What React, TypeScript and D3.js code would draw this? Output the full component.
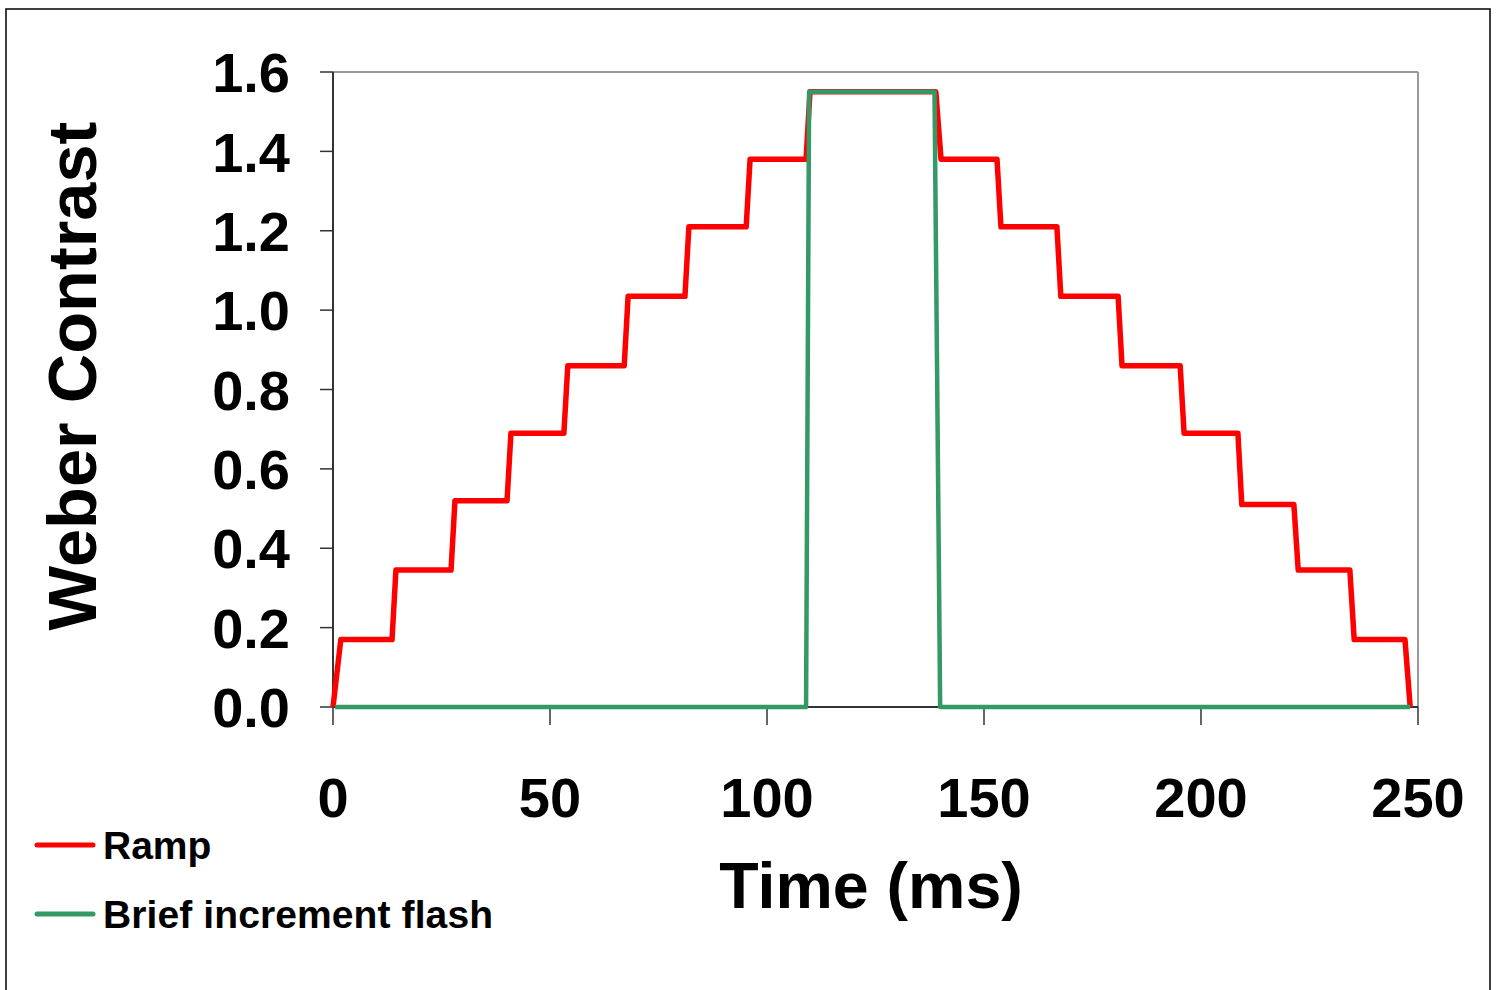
import React from "react";
import * as d3 from "d3";

const rampTime = [0, 1.8, 13.6, 14.5, 27.2, 28.1, 40.1, 41.0, 53.2, 54.1, 67.1, 68.0, 81.1, 82.0, 95.2, 96.1, 109.0, 109.9, 138.9, 140.1, 153.0, 153.9, 166.8, 167.7, 180.9, 181.8, 195.2, 196.1, 208.5, 209.4, 221.4, 222.4, 234.3, 235.3, 247.0, 248.2];
const rampValue = [0, 0.17, 0.17, 0.345, 0.345, 0.52, 0.52, 0.69, 0.69, 0.86, 0.86, 1.035, 1.035, 1.21, 1.21, 1.38, 1.38, 1.55, 1.55, 1.38, 1.38, 1.21, 1.21, 1.035, 1.035, 0.86, 0.86, 0.69, 0.69, 0.51, 0.51, 0.345, 0.345, 0.17, 0.17, 0];
const flashTime = [0.5, 109.0, 109.7, 138.6, 139.9, 248.2];
const flashValue = [0, 0, 1.55, 1.55, 0, 0];
const xTicks = [0, 50, 100, 150, 200, 250];
const yTicks = [0, 0.2, 0.4, 0.6, 0.8, 1.0, 1.2, 1.4, 1.6];
const seriesNames = ["Ramp", "Brief increment flash"];
const seriesColors = ["#ff0000", "#339966"];

const FONT = "'Liberation Sans', Arial, sans-serif";

export default function App() {
  const W = 1499, H = 990;
  const left = 333, right = 1418, top = 72, bottom = 707;
  const x = d3.scaleLinear().domain([0, 250]).range([left, right]);
  const y = d3.scaleLinear().domain([0, 1.6]).range([bottom, top]);
  const line = d3.line<[number, number]>().x(d => x(d[0])).y(d => y(d[1]));
  const rampPts = rampTime.map((t, i) => [t, rampValue[i]] as [number, number]);
  const flashPts = flashTime.map((t, i) => [t, flashValue[i]] as [number, number]);

  return (
    <svg width={W} height={H} style={{ position: "absolute", left: 0, top: 0, background: "#fff" }} fontFamily={FONT}>
      <rect x={6} y={9} width={1484} height={1000} fill="#fff" stroke="#000" strokeWidth={1.5} />
      <line x1={left} y1={top} x2={right} y2={top} stroke="#999" strokeWidth={2} />
      <line x1={right} y1={top} x2={right} y2={bottom} stroke="#999" strokeWidth={2} />
      <line x1={left} y1={top} x2={left} y2={bottom} stroke="#333" strokeWidth={2} />
      <line x1={left} y1={bottom} x2={right} y2={bottom} stroke="#333" strokeWidth={2} />
      {yTicks.map(v => (
        <g key={"y" + v}>
          <line x1={left - 13} x2={left} y1={y(v)} y2={y(v)} stroke="#333" strokeWidth={1.5} />
          <text x={290} y={y(v)} dy="0.36em" textAnchor="end" fontSize={56} fontWeight="bold">{v.toFixed(1)}</text>
        </g>
      ))}
      {xTicks.map(v => (
        <g key={"x" + v}>
          <line x1={x(v)} x2={x(v)} y1={bottom} y2={bottom + 18} stroke="#333" strokeWidth={1.5} />
          <text x={x(v)} y={817} textAnchor="middle" fontSize={56} fontWeight="bold">{v}</text>
        </g>
      ))}
      <path d={line(rampPts) || ""} fill="none" stroke={seriesColors[0]} strokeWidth={5.5} strokeLinejoin="round" />
      <path d={line(flashPts) || ""} fill="none" stroke={seriesColors[1]} strokeWidth={4.5} strokeLinejoin="round" />
      <text x={871} y={908} textAnchor="middle" fontSize={64.5} fontWeight="bold">Time (ms)</text>
      <text transform="translate(96,376) rotate(-90)" textAnchor="middle" fontSize={68.5} fontWeight="bold">Weber Contrast</text>
      {seriesNames.map((n, i) => (
        <g key={n}>
          <line x1={37} x2={93} y1={845 + i * 69} y2={845 + i * 69} stroke={seriesColors[i]} strokeWidth={5} strokeLinecap="round" />
          <text x={103} y={859 + i * 69} fontSize={39} fontWeight="bold" textLength={i === 1 ? 390 : undefined}>{n}</text>
        </g>
      ))}
    </svg>
  );
}
